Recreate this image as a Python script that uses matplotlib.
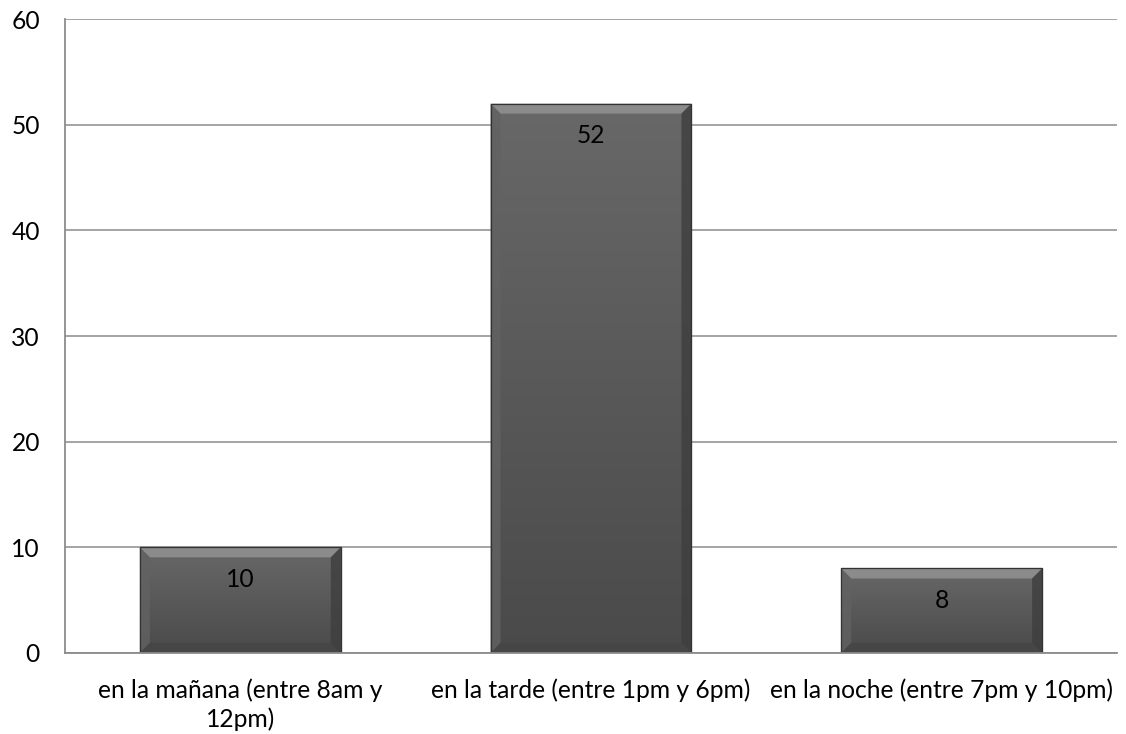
import matplotlib

matplotlib.use("Agg")
import matplotlib.pyplot as plt
import numpy as np
from matplotlib.patches import Polygon

categories = [
    "en la mañana (entre 8am y\n12pm)",
    "en la tarde (entre 1pm y 6pm)",
    "en la noche (entre 7pm y 10pm)",
]
values = [10, 52, 8]
yticks = [0, 10, 20, 30, 40, 50, 60]

plt.rcParams["font.family"] = ["Lato", "DejaVu Sans"]
FS = 17.7

fig = plt.figure(figsize=(11.26, 7.34), dpi=100)
ax = fig.add_axes([0.0577, 0.1104, 0.9343, 0.8636])
ax.set_xlim(-0.5, 2.5)
ax.set_ylim(0, 60)
ax.set_yticks(yticks)
ax.set_xticks(range(len(categories)), categories)
ax.tick_params(length=0, labelsize=FS, colors="black")
ax.tick_params(axis="y", pad=18)
ax.tick_params(axis="x", pad=18)
for lab in ax.get_xticklabels():
    lab.set_linespacing(1.3)
ax.yaxis.grid(True, color="#8c8c8c", linewidth=1.1)
ax.set_axisbelow(True)
for s in ["top", "right"]:
    ax.spines[s].set_visible(False)
for s in ["left", "bottom"]:
    ax.spines[s].set_color("#8c8c8c")
    ax.spines[s].set_linewidth(1.3)

width = 0.573
bars = ax.bar(range(len(values)), values, width, color="#5a5a5a",
              edgecolor="#3a3a3a", linewidth=0.8, zorder=2)

grad = np.linspace(0, 1, 256).reshape(-1, 1)
cmap = matplotlib.colors.LinearSegmentedColormap.from_list("g", ["#4a4a4a", "#686868"])
fig.canvas.draw()
b = 10  # bevel size in px
for rect, v in zip(bars, values):
    x0, y0 = rect.get_x(), 0
    x1, y1 = x0 + rect.get_width(), v
    im = ax.imshow(grad, extent=[x0, x1, y0, y1], origin="lower", aspect="auto",
                   cmap=cmap, zorder=2.1)
    im.set_clip_path(rect)
    (px0, py0), (px1, py1) = ax.transData.transform([(x0, y0), (x1, y1)])
    bevels = [
        ([(px0, py1), (px1, py1), (px1 - b, py1 - b), (px0 + b, py1 - b)], "#959595"),
        ([(px0, py0), (px0, py1), (px0 + b, py1 - b), (px0 + b, py0 + b)], "#626262"),
        ([(px1, py0), (px1, py1), (px1 - b, py1 - b), (px1 - b, py0 + b)], "#3e3e3e"),
        ([(px0, py0), (px1, py0), (px1 - b, py0 + b), (px0 + b, py0 + b)], "#454545"),
    ]
    for pts, c in bevels:
        ax.add_patch(Polygon(pts, closed=True, transform=None, facecolor=c,
                             edgecolor="none", alpha=0.8, zorder=2.2))
    ax.add_patch(Polygon([(px0, py0), (px1, py0), (px1, py1), (px0, py1)], closed=True,
                         transform=None, facecolor="none", edgecolor="#333333",
                         linewidth=0.9, zorder=2.3))
    ax.annotate(f"{v}", xy=(rect.get_x() + rect.get_width() / 2, v), xytext=(0, -23),
                textcoords="offset points", ha="center", va="center",
                fontsize=FS, color="black", zorder=3)

fig.savefig("out.png", dpi=100)
